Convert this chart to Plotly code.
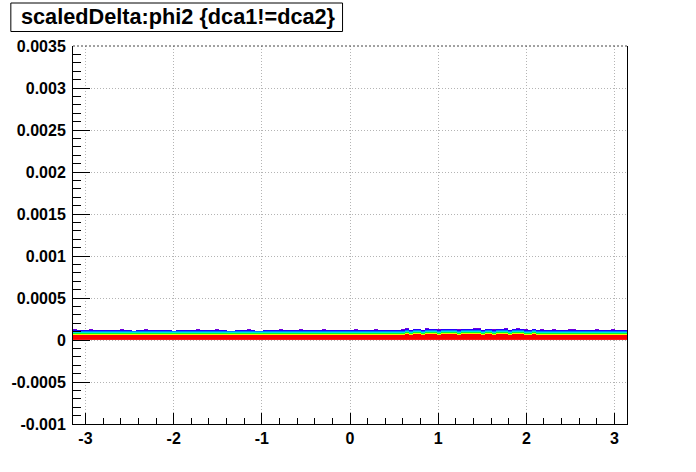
import numpy as np
import plotly.graph_objects as go

# ---- data ----
title_text = "scaledDelta:phi2 {dca1!=dca2}"
x_range = [-np.pi, np.pi]
y_range = [-0.001, 0.0035]
n_xbins = 140
y_bin_width = 1.2e-5

# number of red (core) rows per x bin
core_rows = [5]*84 + [6, 5, 6, 6, 5, 6, 6, 6, 5, 6, 6, 6, 6, 5, 6, 6, 6, 6, 6, 5,
                      6, 6, 5, 6, 6, 6, 5, 6, 6, 6, 5, 5, 6, 5] + [5]*22
# rows above the core that are filled (5 = up to blue, 6 = purple speck, 4 = gap)
extra_rows = [6, 5, 5, 5, 6, 5, 5, 5, 5, 5,
              5, 5, 6, 5, 5, 4, 5, 5, 6, 5,
              5, 5, 5, 5, 5, 4, 5, 5, 5, 5,
              5, 6, 5, 5, 5, 5, 6, 5, 5, 4,
              4, 5, 5, 5, 6, 5, 4, 4, 5, 5,
              5, 5, 6, 5, 5, 5, 5, 6, 5, 5,
              5, 5, 5, 6, 5, 5, 5, 5, 5, 5,
              5, 6, 5, 5, 5, 5, 6, 5, 5, 5,
              5, 5, 5, 6, 6, 5, 5, 5, 5, 6,
              5, 5, 6, 5, 5, 5, 5, 6, 5, 5,
              5, 6, 6, 5, 5, 5, 6, 5, 5, 6,
              5, 5, 6, 5, 6, 5, 5, 5, 6, 5,
              5, 6, 5, 5, 5, 6, 6, 5, 5, 5,
              5, 5, 6, 5, 5, 5, 6, 5, 5, 5]
# colour level of each row above the core (yellow, green, cyan, azure, blue, purple)
upper_levels = [0.82, 0.64, 0.46, 0.32, 0.16, 0.02]
core_level = 1.0

y_tickvals = [-0.001, -0.0005, 0, 0.0005, 0.001, 0.0015, 0.002, 0.0025, 0.003, 0.0035]
y_ticktext = ["-0.001", "-0.0005", "0", "0.0005", "0.001", "0.0015", "0.002",
              "0.0025", "0.003", "0.0035"]
x_tickvals = [-3, -2, -1, 0, 1, 2, 3]
x_ticktext = ["-3", "-2", "-1", "0", "1", "2", "3"]

# ---- build histogram cells ----
x_edges = np.linspace(x_range[0], x_range[1], n_xbins + 1)
n_rows = max(c + e for c, e in zip(core_rows, extra_rows)) + 1
y_edges = np.arange(n_rows + 1) * y_bin_width
z = [[None]*n_xbins for _ in range(n_rows)]
for i in range(n_xbins):
    c = core_rows[i]
    e = extra_rows[i]
    for r in range(c):
        z[r][i] = core_level
    for k in range(e):
        z[c + k][i] = upper_levels[k]

colorscale = [
    [0.0, "#7a00d8"],
    [0.16, "#2200ff"],
    [0.32, "#0080ff"],
    [0.46, "#00e0e0"],
    [0.64, "#00ff30"],
    [0.82, "#e8ff00"],
    [0.91, "#ff9000"],
    [1.0, "#ff0000"],
]

fig = go.Figure()
fig.add_trace(go.Heatmap(x=x_edges, y=y_edges, z=z, zmin=0, zmax=1,
                         colorscale=colorscale, showscale=False,
                         hoverongaps=False))

font = dict(family="Liberation Sans, Arial, Helvetica, sans-serif", size=16,
            color="black", weight="bold")

fig.update_layout(
    width=696, height=472,
    margin=dict(l=70, r=69, t=46, b=48),
    paper_bgcolor="white", plot_bgcolor="white",
    showlegend=False,
    font=font,
)
grid_dash = "1px,2px"
fig.update_xaxes(
    range=x_range, tickvals=x_tickvals, ticktext=x_ticktext,
    ticks="inside", ticklen=11, tickcolor="black", tickwidth=1,
    minor=dict(dtick=0.2, tick0=0, ticks="inside", ticklen=6, tickcolor="black",
               showgrid=False),
    showgrid=True, gridcolor="#b4b4b4", griddash=grid_dash, gridwidth=1,
    showline=True, linecolor="black", linewidth=1, mirror=False,
    zeroline=False, tickfont=font,
)
fig.update_yaxes(
    range=y_range, tickvals=y_tickvals, ticktext=y_ticktext,
    ticks="inside", ticklen=17, tickcolor="black", tickwidth=1,
    minor=dict(dtick=0.0001, tick0=0, ticks="inside", ticklen=8, tickcolor="black",
               showgrid=False),
    showgrid=True, gridcolor="#b4b4b4", griddash=grid_dash, gridwidth=1,
    showline=True, linecolor="black", linewidth=1, mirror=True,
    zeroline=False, tickfont=font, ticklabelstandoff=3,
)
# dotted top edge of frame
fig.add_shape(type="line", xref="paper", yref="paper", x0=0, x1=1, y0=1, y1=1,
              line=dict(color="#444444", width=1, dash="2px,2px"))
# title box
fig.add_shape(type="rect", xref="paper", yref="paper",
              x0=(7.5-70)/557, x1=(341-70)/557, y0=(424-31.5)/378, y1=(424-3)/378,
              line=dict(color="black", width=1), fillcolor="white")
fig.add_annotation(text=title_text, xref="paper", yref="paper",
                   x=(176.5-70)/557, y=(424-17)/378, xanchor="center", yanchor="middle",
                   showarrow=False,
                   font=dict(family="Liberation Sans, Arial, Helvetica, sans-serif",
                             size=21.7, color="black", weight="bold"))

fig.write_html("out.html", config={"displayModeBar": False},
               post_script="document.body.style.margin='0px';")
